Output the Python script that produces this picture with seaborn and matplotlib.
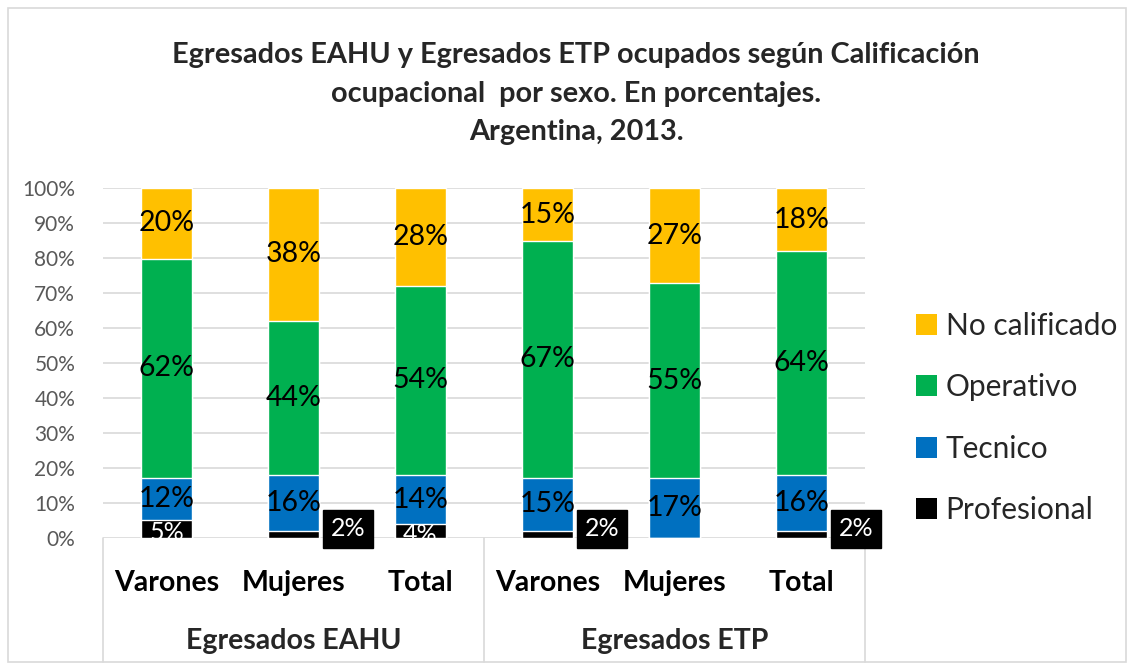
import numpy as np
import pandas as pd
import matplotlib
matplotlib.use("Agg")
import matplotlib.pyplot as plt
import matplotlib.transforms as mtransforms
from matplotlib.patches import Patch, Rectangle
import seaborn as sns

# Datos (porcentajes)
grupos = ["Egresados EAHU", "Egresados ETP"]
sexos = ["Varones", "Mujeres", "Total"]
profesional = [5, 2, 4, 2, 0, 2]
tecnico = [12, 16, 14, 15, 17, 16]
operativo = [62, 44, 54, 67, 55, 64]
no_calificado = [20, 38, 28, 15, 27, 18]

categorias = ["Profesional", "Tecnico", "Operativo", "No calificado"]
colores = {"Profesional": "#000000", "Tecnico": "#0070C0",
           "Operativo": "#00B050", "No calificado": "#FFC000"}

claves = [f"{g} {s}" for g in grupos for s in sexos]
df = pd.DataFrame({"Profesional": profesional, "Tecnico": tecnico,
                   "Operativo": operativo, "No calificado": no_calificado},
                  index=claves)
# grafico 100% apilado, como en Excel
pct = df.div(df.sum(axis=1), axis=0) * 100
acum = pct.cumsum(axis=1)

sns.set_style("white")
plt.rcParams["font.family"] = ["Lato", "DejaVu Sans"]

fig = plt.figure(figsize=(11.34, 6.7), dpi=100)
ax = fig.add_axes([103 / 1134, 1 - 538 / 670, 762 / 1134, 350 / 670])

# se dibuja del acumulado mas alto al mas bajo para apilar
for cat in reversed(categorias):
    sns.barplot(x=claves, y=acum[cat].values, color=colores[cat], width=0.4,
                saturation=1, ax=ax, zorder=2)

ax.set_xlim(-0.5, 5.5)
ax.set_ylim(0, 100)
ax.set_yticks(np.arange(0, 101, 10))
ax.set_yticklabels([f"{v}%" for v in range(0, 101, 10)], color="#595959", fontsize=15)
ax.yaxis.grid(True, color="#D9D9D9", linewidth=1.2, zorder=0)
ax.set_axisbelow(True)
ax.tick_params(axis="both", length=0)
ax.tick_params(axis="y", pad=20)
for s in ax.spines.values():
    s.set_visible(False)
ax.set_xticks(range(6))
ax.set_xticklabels(sexos * 2, fontsize=20.5, fontweight="bold", color="black")
ax.tick_params(axis="x", pad=23)

# etiquetas de los segmentos
for i, k in enumerate(claves):
    base = 0
    for cat in categorias:
        v = df.loc[k, cat]
        h = pct.loc[k, cat]
        centro = base + h / 2
        if cat == "Profesional":
            if v >= 4:
                ax.text(i, centro - 1.0, f"{v}%", ha="center", va="center",
                        color="white", fontsize=18, clip_on=True, zorder=5)
            elif v > 0:
                ax.text(i + 0.43, 2.6, f"{v}%", ha="center", va="center",
                        color="white", fontsize=18, zorder=5, clip_on=False,
                        bbox=dict(boxstyle="square,pad=0.3", fc="black", ec="black"))
        else:
            ax.text(i, centro, f"{v}%", ha="center", va="center",
                    color="black", fontsize=20.5, zorder=5)
        base += h

# separadores del eje de categorias
trans = mtransforms.blended_transform_factory(ax.transData, ax.transAxes)
for xs in [-0.5, 2.5, 5.5]:
    ax.plot([xs, xs], [0, -0.355], color="#D9D9D9", linewidth=1.2,
            transform=trans, clip_on=False)
for j, g in enumerate(grupos):
    ax.text(1 + 3 * j, -0.295, g, ha="center", va="center", fontsize=20.5,
            fontweight="bold", transform=trans)

# leyenda
handles = [Patch(facecolor=colores[c], edgecolor="none") for c in reversed(categorias)]
fig.legend(handles, list(reversed(categorias)), loc="center left",
           bbox_to_anchor=(889 / 1134, 1 - 418 / 670), frameon=False,
           fontsize=21.5, handlelength=0.7, handleheight=0.7, handletextpad=0.3,
           labelspacing=1.12)

fig.suptitle("Egresados EAHU y Egresados ETP ocupados según Calificación\n"
             "ocupacional  por sexo. En porcentajes.\nArgentina, 2013.",
             x=576 / 1134, y=1 - 42 / 670, va="top", fontsize=20.8,
             fontweight="bold", linespacing=1.6)

# borde exterior
fig.patches.append(Rectangle((8 / 1134, 8 / 670), 1118 / 1134, 654 / 670,
                             transform=fig.transFigure, fill=False,
                             edgecolor="#D9D9D9", linewidth=1.2))

fig.savefig("out.png", dpi=100)
